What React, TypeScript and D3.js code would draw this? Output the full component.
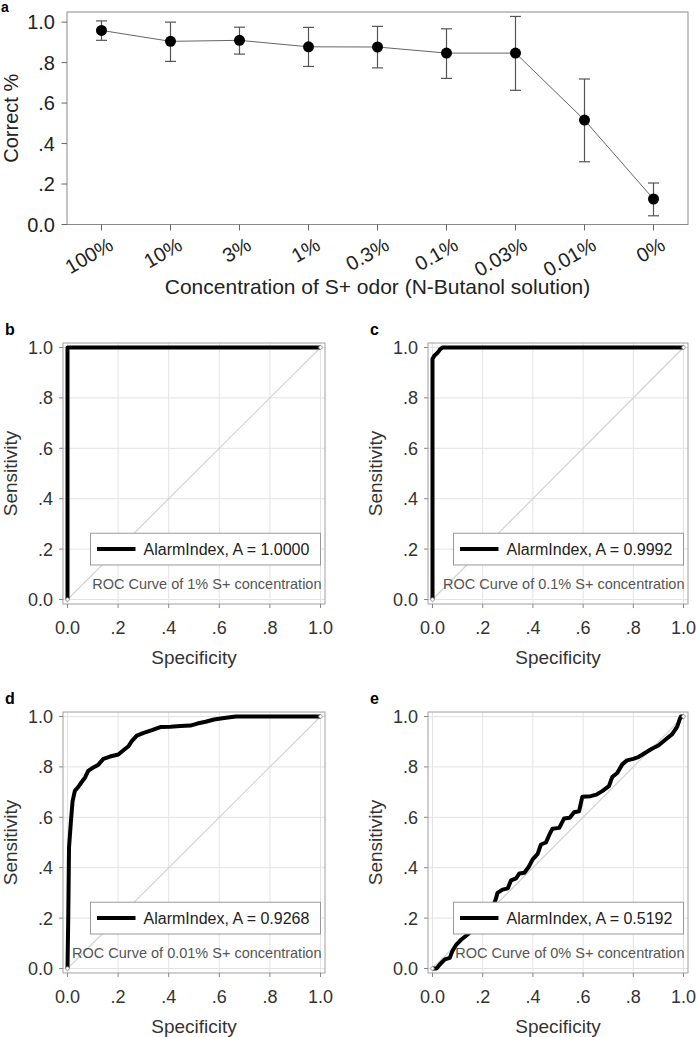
import React from "react";
import * as d3 from "d3";

// ---------- Data ----------
const concentrations = ["100%", "10%", "3%", "1%", "0.3%", "0.1%", "0.03%", "0.01%", "0%"];
const correctMean = [0.959, 0.905, 0.91, 0.878, 0.877, 0.847, 0.847, 0.516, 0.126];
const errUpper = [1.006, 1.0, 0.975, 0.974, 0.979, 0.967, 1.028, 0.719, 0.205];
const errLower = [0.91, 0.806, 0.842, 0.781, 0.774, 0.722, 0.663, 0.31, 0.043];
const aTickValues = [0, 0.2, 0.4, 0.6, 0.8, 1.0];
const aTickLabels = ["0.0", ".2", ".4", ".6", ".8", "1.0"];

const rocTickValues = [0, 0.2, 0.4, 0.6, 0.8, 1.0];
const rocTickLabels = ["0.0", ".2", ".4", ".6", ".8", "1.0"];

const rocB: [number, number][] = [[0, 0], [0, 1], [1, 1]];
const rocC: [number, number][] = [
  [0, 0], [0, 0.955], [0.008, 0.968], [0.016, 0.975], [0.025, 0.985], [0.03, 0.993], [0.04, 1], [1, 1],
];
const rocD: [number, number][] = [
  [0, 0], [0.003, 0.205], [0.006, 0.48], [0.013, 0.577], [0.02, 0.663], [0.029, 0.705], [0.042, 0.72],
  [0.056, 0.74], [0.069, 0.757], [0.082, 0.784], [0.102, 0.798], [0.122, 0.809], [0.142, 0.832],
  [0.168, 0.841], [0.201, 0.849], [0.221, 0.866], [0.241, 0.882], [0.254, 0.902], [0.274, 0.924],
  [0.301, 0.935], [0.334, 0.946], [0.367, 0.958], [0.407, 0.959], [0.446, 0.962], [0.486, 0.964],
  [0.513, 0.972], [0.546, 0.979], [0.579, 0.988], [0.619, 0.994], [0.665, 1.0], [1, 1],
];
const rocE: [number, number][] = [
  [0, 0], [0.016, 0], [0.029, 0.016], [0.049, 0.036], [0.069, 0.042], [0.079, 0.069], [0.095, 0.095],
  [0.115, 0.115], [0.135, 0.131], [0.155, 0.148], [0.175, 0.17], [0.2, 0.2], [0.225, 0.225],
  [0.245, 0.255], [0.252, 0.275], [0.259, 0.3], [0.279, 0.313], [0.3, 0.318], [0.313, 0.35],
  [0.333, 0.358], [0.346, 0.377], [0.366, 0.38], [0.383, 0.403], [0.399, 0.433], [0.419, 0.455],
  [0.432, 0.492], [0.452, 0.5], [0.465, 0.53], [0.478, 0.555], [0.505, 0.558], [0.524, 0.595],
  [0.547, 0.598], [0.564, 0.62], [0.584, 0.624], [0.597, 0.682], [0.63, 0.684], [0.653, 0.69],
  [0.676, 0.704], [0.703, 0.724], [0.716, 0.76], [0.736, 0.776], [0.756, 0.81], [0.775, 0.826],
  [0.8, 0.832], [0.822, 0.84], [0.848, 0.856], [0.874, 0.872], [0.9, 0.885], [0.93, 0.91],
  [0.955, 0.93], [0.975, 0.96], [0.985, 0.99], [0.99, 1], [1, 1],
];
const rocCurves = [rocB, rocC, rocD, rocE];
const panelLetters = ["b", "c", "d", "e"];
const legendLabels = [
  "AlarmIndex, A = 1.0000",
  "AlarmIndex, A = 0.9992",
  "AlarmIndex, A = 0.9268",
  "AlarmIndex, A = 0.5192",
];
const captions = [
  "ROC Curve of 1% S+ concentration",
  "ROC Curve of 0.1% S+ concentration",
  "ROC Curve of 0.01% S+ concentration",
  "ROC Curve of 0% S+ concentration",
];

const FONT = "'Liberation Sans', Arial, Helvetica, sans-serif";

// ---------- Panel a ----------
function PanelA() {
  const left = 67, right = 688, top = 12, bottom = 224.5;
  const x = d3.scalePoint<string>().domain(concentrations).range([left, right]).padding(0.5);
  const y = d3.scaleLinear().domain([0, 1.05]).range([bottom, top]);
  const line = d3.line<number>().x((_, i) => x(concentrations[i])!).y((d) => y(d));
  const cap = 5.5;
  return (
    <g fontFamily={FONT}>
      <text x={1} y={12} fontSize={14} fontWeight="bold" fill="#000">a</text>
      <rect x={left} y={top} width={right - left} height={bottom - top} fill="none" stroke="#8a8a8a" strokeWidth={1} />
      {aTickValues.map((v, i) => (
        <g key={i}>
          <line x1={left - 5.5} x2={left} y1={y(v)} y2={y(v)} stroke="#666" />
          <text x={left - 12} y={y(v)} dy="0.36em" textAnchor="end" fontSize={20} fill="#222">{aTickLabels[i]}</text>
        </g>
      ))}
      {concentrations.map((c) => (
        <g key={c}>
          <line x1={x(c)} x2={x(c)} y1={bottom} y2={bottom + 6} stroke="#666" />
          <text
            transform={`translate(${x(c)! + 6},${bottom + 12}) rotate(-30)`}
            textAnchor="end"
            dy="0.71em"
            fontSize={20}
            fill="#222"
          >{c}</text>
        </g>
      ))}
      <path d={line(correctMean) || ""} fill="none" stroke="#666" strokeWidth={1} />
      {concentrations.map((c, i) => (
        <g key={c} stroke="#555" strokeWidth={1.2}>
          <line x1={x(c)} x2={x(c)} y1={y(errUpper[i])} y2={y(errLower[i])} />
          <line x1={x(c)! - cap} x2={x(c)! + cap} y1={y(errUpper[i])} y2={y(errUpper[i])} />
          <line x1={x(c)! - cap} x2={x(c)! + cap} y1={y(errLower[i])} y2={y(errLower[i])} />
        </g>
      ))}
      {concentrations.map((c, i) => (
        <circle key={c} cx={x(c)} cy={y(correctMean[i])} r={5.5} fill="#000" />
      ))}
      <text
        transform={`translate(${11},${(top + bottom) / 2}) rotate(-90)`}
        textAnchor="middle"
        dy="0.36em"
        fontSize={20}
        fill="#222"
      >Correct %</text>
      <text x={(left + right) / 2} y={294} textAnchor="middle" fontSize={21} fill="#222">
        Concentration of S+ odor (N-Butanol solution)
      </text>
    </g>
  );
}

// ---------- ROC panels ----------
const frames = [
  { x0: 63, y0: 343, w: 262, h: 261 },
  { x0: 428, y0: 343, w: 260, h: 261 },
  { x0: 63, y0: 712, w: 262, h: 261 },
  { x0: 428, y0: 712, w: 260, h: 261 },
];

function RocPanel({ idx }: { idx: number }) {
  const f = frames[idx];
  const pad = 4.5;
  const x = d3.scaleLinear().domain([0, 1]).range([f.x0 + pad, f.x0 + f.w - pad]);
  const y = d3.scaleLinear().domain([0, 1]).range([f.y0 + f.h - pad, f.y0 + pad]);
  const line = d3.line<[number, number]>().x((d) => x(d[0])).y((d) => y(d[1]));
  const bottom = f.y0 + f.h;
  const legR = x(1);
  const legL = legR - 230;
  const legT = y(0.263);
  const legB = y(0.137);
  const legMid = (legT + legB) / 2;
  return (
    <g fontFamily={FONT}>
      <text x={f.x0 - 58} y={f.y0 - 8} fontSize={16} fontWeight="bold" fill="#000">{panelLetters[idx]}</text>
      {rocTickValues.map((v, i) => (
        <g key={"g" + i}>
          <line x1={x(v)} x2={x(v)} y1={f.y0} y2={bottom} stroke="#e3e3e3" strokeWidth={1} />
          <line x1={f.x0} x2={f.x0 + f.w} y1={y(v)} y2={y(v)} stroke="#e3e3e3" strokeWidth={1} />
        </g>
      ))}
      <rect x={f.x0} y={f.y0} width={f.w} height={f.h} fill="none" stroke="#a0a0a0" strokeWidth={1} />
      <line x1={x(0)} y1={y(0)} x2={x(1)} y2={y(1)} stroke="#d2d2d2" strokeWidth={1.2} />
      <path d={line(rocCurves[idx]) || ""} fill="none" stroke="#000" strokeWidth={4} strokeLinejoin="round" />
      <circle cx={x(0)} cy={y(0)} r={1.8} fill="#fff" stroke="#888" strokeWidth={0.8} />
      <circle cx={x(1)} cy={y(1)} r={1.8} fill="#fff" stroke="#888" strokeWidth={0.8} />
      {rocTickValues.map((v, i) => (
        <g key={"t" + i}>
          <line x1={f.x0 - 4} x2={f.x0} y1={y(v)} y2={y(v)} stroke="#888" />
          <text x={f.x0 - 10} y={y(v)} dy="0.36em" textAnchor="end" fontSize={18} fill="#333">{rocTickLabels[i]}</text>
          <line x1={x(v)} x2={x(v)} y1={bottom} y2={bottom + 4} stroke="#888" />
          <text x={x(v)} y={bottom + 30} textAnchor="middle" fontSize={18} fill="#333">{rocTickLabels[i]}</text>
        </g>
      ))}
      <rect x={legL} y={legT} width={legR - legL} height={legB - legT} fill="#fff" stroke="#999" strokeWidth={1} />
      <line x1={legL + 6.5} x2={legL + 45} y1={legMid} y2={legMid} stroke="#000" strokeWidth={4} />
      <text x={legL + 53} y={legMid} dy="0.36em" fontSize={16} fill="#222">{legendLabels[idx]}</text>
      <text x={x(1) + 1} y={y(0.063)} dy="0.36em" textAnchor="end" fontSize={14.5} fill="#555">{captions[idx]}</text>
      <text
        transform={`translate(${f.x0 - 53},${f.y0 + f.h / 2}) rotate(-90)`}
        textAnchor="middle"
        dy="0.36em"
        fontSize={19}
        fill="#333"
      >Sensitivity</text>
      <text x={f.x0 + f.w / 2} y={bottom + 60} textAnchor="middle" fontSize={19} fill="#333">Specificity</text>
    </g>
  );
}

export default function App() {
  return (
    <svg
      width={697}
      height={1037}
      viewBox="0 0 697 1037"
      style={{ position: "absolute", left: 0, top: 0, background: "#fff" }}
    >
      <rect x={0} y={0} width={697} height={1037} fill="#fff" />
      <PanelA />
      {[0, 1, 2, 3].map((i) => (
        <RocPanel key={i} idx={i} />
      ))}
    </svg>
  );
}
